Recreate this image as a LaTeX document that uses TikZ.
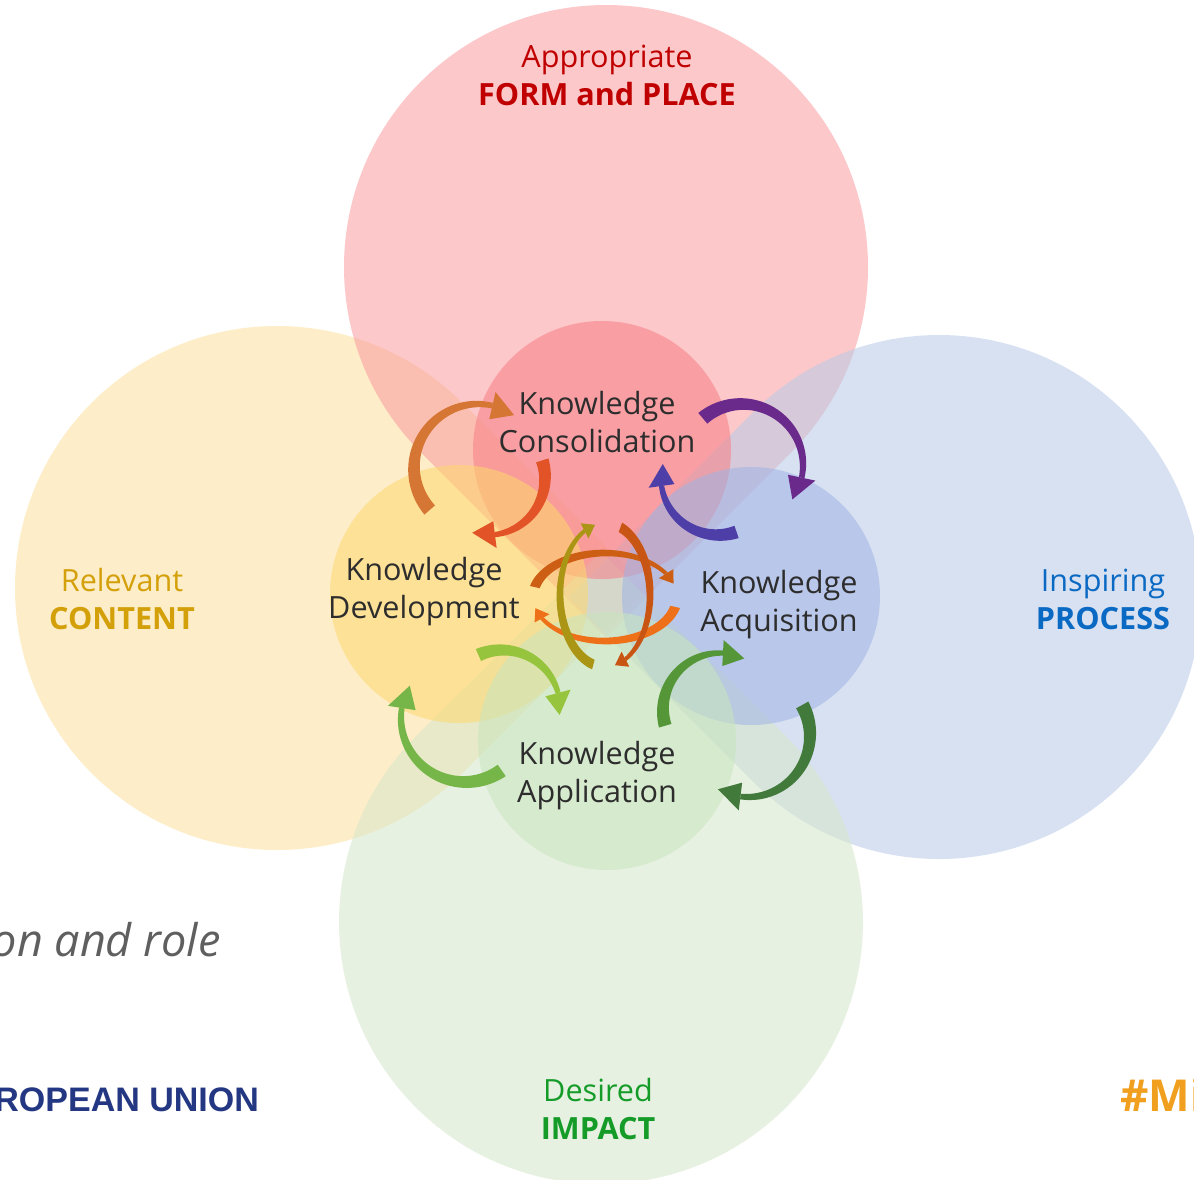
\documentclass[tikz,border=0pt]{standalone}
\usepackage{fontspec}
\setmainfont{Open Sans}
\newfontfamily\eufont{Liberation Sans}
\usetikzlibrary{calc}

\definecolor{dropred}{RGB}{251,155,160}
\definecolor{dropyellow}{RGB}{253,224,155}
\definecolor{dropblue}{RGB}{184,202,231}
\definecolor{dropgreen}{RGB}{213,231,201}
\definecolor{discred}{RGB}{247,127,134}
\definecolor{discyellow}{RGB}{254,216,109}
\definecolor{discblue}{RGB}{160,179,229}
\definecolor{discgreen}{RGB}{201,229,189}
\definecolor{knowtext}{RGB}{45,45,45}
\definecolor{formred}{RGB}{192,0,0}
\definecolor{contentgold}{RGB}{212,160,10}
\definecolor{processblue}{RGB}{10,105,195}
\definecolor{impactgreen}{RGB}{20,155,40}
\definecolor{rolegray}{RGB}{95,95,95}
\definecolor{eunavy}{RGB}{35,55,130}
\definecolor{tagorange}{RGB}{240,160,30}
\definecolor{arrA}{RGB}{214,118,52}
\definecolor{arrB}{RGB}{226,84,40}
\definecolor{arrC}{RGB}{106,42,140}
\definecolor{arrD}{RGB}{78,62,168}
\definecolor{arrE}{RGB}{118,182,72}
\definecolor{arrF}{RGB}{150,196,60}
\definecolor{arrG}{RGB}{84,150,56}
\definecolor{arrH}{RGB}{66,122,60}
\definecolor{midA}{RGB}{205,95,20}
\definecolor{midB}{RGB}{238,112,24}
\definecolor{midC}{RGB}{200,85,20}
\definecolor{midD}{RGB}{170,150,20}

\newcommand{\teardrop}[4]{\fill[#4] (#1,#2) ++(#3+45:262) arc[start angle=#3+45, end angle=#3+315, radius=262] -- ($(#1,#2)+(#3:370.5)$) -- cycle;}

\newcommand{\swoosh}[9]{
    \pgfmathsetmacro{\hd}{0.85*#8/((#3+#4)/2)*57.3}
    \fill[#9] plot[domain=#5:#6, samples=40, variable=\t] ({#1+(#3+0.5*#7*(1-0.6*(\t-#5)/(#6-#5)))*cos(\t)}, {#2+(#4+0.5*#7*(1-0.6*(\t-#5)/(#6-#5)))*sin(\t)})
        -- plot[domain=#6:#5, samples=40, variable=\t] ({#1+(#3-0.5*#7*(1-0.6*(\t-#5)/(#6-#5)))*cos(\t)}, {#2+(#4-0.5*#7*(1-0.6*(\t-#5)/(#6-#5)))*sin(\t)})
        -- cycle;
    \fill[#9] ({#1+(#3+0.5*#8)*cos(#6)}, {#2+(#4+0.5*#8)*sin(#6)}) -- ({#1+#3*cos(#6+\hd)}, {#2+#4*sin(#6+\hd)}) -- ({#1+(#3-0.5*#8)*cos(#6)}, {#2+(#4-0.5*#8)*sin(#6)}) -- cycle;
}

\begin{document}
\begin{tikzpicture}[x=0.5pt, y=-0.5pt,
        bigdrop/.style={fill opacity=0.55},
        smalldisc/.style={fill opacity=0.55},
        knowledge/.style={align=center, text=knowtext, inner sep=0pt, font=\fontsize{15.3}{19}\selectfont},
        aspect/.style={align=center, inner sep=0pt, font=\fontsize{15.3}{19}\selectfont},
    ]
    \fill[white] (0,0) rectangle (1194,1179);
    \clip (0,0) rectangle (1194,1179);

    \teardrop{277}{588}{0}{dropyellow,bigdrop}
    \teardrop{606}{267}{90}{dropred,bigdrop}
    \teardrop{939}{597}{180}{dropblue,bigdrop}
    \teardrop{601}{922}{270}{dropgreen,bigdrop}

    \fill[discred, smalldisc] (602,450) circle[radius=129];
    \fill[discyellow, smalldisc] (459,594) circle[radius=129];
    \fill[discblue, smalldisc] (751,596) circle[radius=129];
    \fill[discgreen, smalldisc] (607,741) circle[radius=129];

    \swoosh{478}{468}{64}{64}{139}{283}{14}{28}{arrA}
    \swoosh{488}{478}{57}{57}{342}{443}{13}{27}{arrB}
    \swoosh{742}{465}{61}{61}{230}{372}{14}{28}{arrC}
    \swoosh{718}{478}{57}{57}{71}{172}{13}{26}{arrD}
    \swoosh{465}{718}{64}{64}{55}{189}{14}{28}{arrE}
    \swoosh{502}{708}{58}{58}{246}{345}{13}{26}{arrF}
    \swoosh{720}{710}{57}{57}{164}{273}{13}{26}{arrG}
    \swoosh{748}{735}{62}{62}{331}{457}{14}{28}{arrH}

    \swoosh{605}{597}{72}{44}{193}{328}{10}{17}{midA}
    \swoosh{605}{597}{72}{44}{13}{151}{10}{17}{midB}
    \swoosh{605}{595}{45}{72}{290}{423}{10}{17}{midC}
    \swoosh{605}{595}{45}{72}{105}{243}{10}{17}{midD}

    \node[knowledge] (consolidation) at (597,422) {Knowledge\\Consolidation};
    \node[knowledge] (development) at (424,592) {Knowledge\\Development};
    \node[knowledge] (acquisition) at (779,605) {Knowledge\\Acquisition};
    \node[knowledge] (application) at (597,776) {Knowledge\\Application};

    \node[aspect, text=formred] (form) at (607,75) {Appropriate\\\textbf{FORM and PLACE}};
    \node[aspect, text=contentgold] (content) at (122,599) {Relevant\\\textbf{CONTENT}};
    \node[aspect, text=processblue] (process) at (1103,599) {Inspiring\\\textbf{PROCESS}};
    \node[aspect, text=impactgreen] (impact) at (598,1109) {Desired\\\textbf{IMPACT}};

    \node[anchor=east, inner sep=0pt, text=rolegray, font=\itshape\fontsize{22.5}{26}\selectfont] (role) at (221,940) {on and role};
    \node[anchor=west, inner sep=0pt, text=eunavy, font=\eufont\bfseries\fontsize{17}{20}\selectfont] (eu) at (-6,1100) {ROPEAN UNION};
    \node[anchor=west, inner sep=0pt, text=tagorange, font=\bfseries\fontsize{22}{26}\selectfont] (tag) at (1120,1095) {\#Mi};
\end{tikzpicture}
\end{document}
